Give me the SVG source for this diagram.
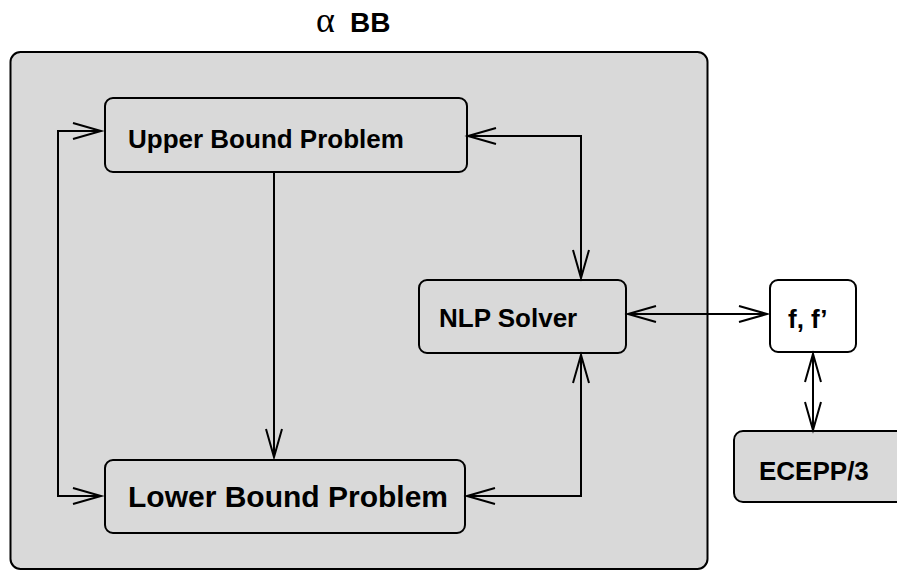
<svg xmlns="http://www.w3.org/2000/svg" width="897" height="571" viewBox="0 0 897 571">
<style>
.box{fill:#d9d9d9;stroke:#000;stroke-width:2}
.wbox{fill:#fff;stroke:#000;stroke-width:2}
.lbl{font-family:"Liberation Sans",Arial,sans-serif;font-weight:bold;fill:#000}
.c{fill:none;stroke:#000;stroke-width:2}
</style>
<defs>
<marker id="ah" markerUnits="userSpaceOnUse" markerWidth="32" markerHeight="18" refX="28" refY="8" orient="auto-start-reverse" overflow="visible">
<path d="M0,0 L28,8 L0,16" fill="none" stroke="#000" stroke-width="2"/>
</marker>
</defs>
<rect width="897" height="571" fill="#fff"/>
<g id="title">
<text x="316" y="32" font-family="Liberation Serif,serif" font-size="36" fill="#000">α</text>
<text x="350" y="32" class="lbl" font-size="28">BB</text>
</g>
<g id="alphaBB">
<rect class="box" x="10.5" y="52" width="697" height="517" rx="10" stroke-width="2.5"/>
</g>
<g id="upper">
<rect class="box" x="105" y="98" width="362" height="74" rx="8"/>
<text x="128" y="148" class="lbl" font-size="26">Upper Bound Problem</text>
</g>
<g id="lower">
<rect class="box" x="105" y="460" width="360" height="73" rx="8"/>
<text x="128" y="507" class="lbl" font-size="30">Lower Bound Problem</text>
</g>
<g id="nlp">
<rect class="box" x="419" y="280" width="207" height="73" rx="8"/>
<text x="439" y="327" class="lbl" font-size="26">NLP Solver</text>
</g>
<g id="ff">
<rect class="wbox" x="770" y="280" width="86" height="72" rx="8"/>
<text x="788" y="328" class="lbl" font-size="26">f, f’</text>
</g>
<g id="ecepp">
<rect class="box" x="734" y="431" width="190" height="71" rx="9"/>
<text x="759" y="480" class="lbl" font-size="26">ECEPP/3</text>
</g>
<g id="connectors">
<path class="c" d="M101,131 H58 V496 H101" marker-start="url(#ah)" marker-end="url(#ah)"/>
<path class="c" d="M468,136 H581 V278" marker-start="url(#ah)" marker-end="url(#ah)"/>
<path class="c" d="M467,496 H581 V355" marker-start="url(#ah)" marker-end="url(#ah)"/>
<path class="c" d="M274,172 V457" marker-end="url(#ah)"/>
<path class="c" d="M628,314 H767" marker-start="url(#ah)" marker-end="url(#ah)"/>
<path class="c" d="M813,354 V430" marker-start="url(#ah)" marker-end="url(#ah)"/>
</g>
</svg>
